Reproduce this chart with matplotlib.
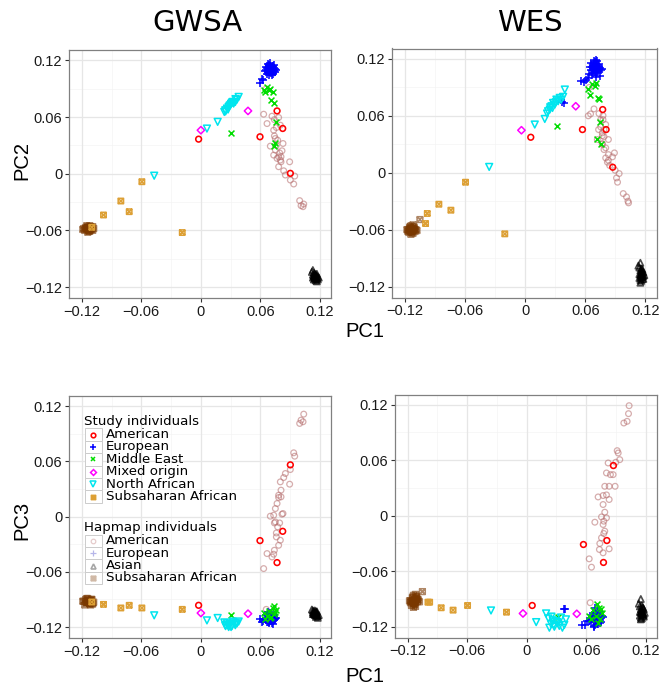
import matplotlib
matplotlib.use('Agg')
import matplotlib.pyplot as plt
from matplotlib.path import Path
from matplotlib.patches import Rectangle
from matplotlib.lines import Line2D

# ---------------- data ----------------
# GWSA, study individuals
gw_amr_pc1 = [0.0769, 0.0826, 0.0597, -0.0022, 0.0903]
gw_amr_pc2 = [0.0665, 0.0479, 0.0391, 0.0366, 0.0004]
gw_amr_pc3 = [-0.0500, -0.0160, -0.0261, -0.0964, 0.0562]

gw_eur_pc1 = [0.066, 0.067, 0.068, 0.069, 0.070, 0.071, 0.072, 0.073, 0.074, 0.075,
              0.067, 0.069, 0.071, 0.073, 0.075, 0.068, 0.070, 0.072, 0.074, 0.066,
              0.068, 0.070, 0.072, 0.074, 0.069, 0.071, 0.073, 0.065, 0.076, 0.070,
              0.060, 0.0617, 0.063, 0.0685]
gw_eur_pc2 = [0.110, 0.112, 0.108, 0.114, 0.111, 0.109, 0.113, 0.110, 0.112, 0.108,
              0.106, 0.115, 0.107, 0.114, 0.111, 0.116, 0.113, 0.105, 0.109, 0.113,
              0.110, 0.117, 0.111, 0.115, 0.108, 0.112, 0.106, 0.109, 0.110, 0.109,
              0.0964, 0.1006, 0.099, 0.104]
gw_eur_pc3 = [-0.112, -0.110, -0.114, -0.108, -0.111, -0.113, -0.109, -0.107, -0.112, -0.110,
              -0.115, -0.106, -0.113, -0.108, -0.111, -0.104, -0.109, -0.116, -0.112, -0.107,
              -0.110, -0.105, -0.113, -0.108, -0.114, -0.109, -0.117, -0.111, -0.110, -0.112,
              -0.111, -0.1146, -0.113, -0.1153]

gw_mde_pc1 = [0.0641, 0.0668, 0.0684, 0.0701, 0.0728, 0.0651, 0.0708, 0.0735, 0.0762, 0.0745, 0.0740, 0.0308]
gw_mde_pc2 = [0.0883, 0.0918, 0.0890, 0.0901, 0.0866, 0.0866, 0.0778, 0.0750, 0.0549, 0.0320, 0.0292, 0.0433]
gw_mde_pc3 = [-0.105, -0.108, -0.103, -0.110, -0.099, -0.111, -0.109, -0.097, -0.101, -0.104, -0.106, -0.1066]

gw_mix_pc1 = [0.0001, 0.0476]
gw_mix_pc2 = [0.0461, 0.0665]
gw_mix_pc3 = [-0.1048, -0.1055]

gw_naf_pc1 = [-0.047, 0.0062, 0.017, 0.0382, 0.0365, 0.0348, 0.0331, 0.0314, 0.0297, 0.0281,
              0.0264, 0.0247, 0.0237, 0.0250, 0.0290, 0.0320, 0.0350, 0.0305, 0.0275]
gw_naf_pc2 = [-0.0021, 0.0478, 0.0549, 0.0813, 0.0785, 0.0760, 0.0743, 0.0750, 0.0725, 0.0707,
              0.0690, 0.0672, 0.0654, 0.0660, 0.0720, 0.0760, 0.0790, 0.0740, 0.0680]
gw_naf_pc3 = [-0.1073, -0.1128, -0.1102, -0.114, -0.116, -0.118, -0.115, -0.119, -0.117, -0.120,
              -0.116, -0.118, -0.115, -0.119, -0.117, -0.114, -0.116, -0.120, -0.118]

gw_ssa_pc1 = [-0.1099, -0.0981, -0.0806, -0.0722, -0.0594, -0.0187]
gw_ssa_pc2 = [-0.0567, -0.0437, -0.0289, -0.0402, -0.0085, -0.0623]
gw_ssa_pc3 = [-0.0928, -0.0954, -0.0993, -0.0964, -0.0993, -0.1008]

# GWSA, Hapmap individuals
gw_hamr_pc1 = [0.0634, 0.0668, 0.0718, 0.0742, 0.0785, 0.0802, 0.0762, 0.0735, 0.0701, 0.0752,
               0.0775, 0.0829, 0.0735, 0.0752, 0.0785, 0.0819, 0.0802, 0.0769, 0.0809, 0.0785,
               0.0836, 0.0896, 0.0853, 0.0903, 0.0937, 0.0947, 0.0997, 0.1011, 0.1038, 0.1031,
               0.0795, 0.0762, 0.0742, 0.0809, 0.0660]
gw_hamr_pc2 = [0.0630, 0.0531, 0.0609, 0.0573, 0.0595, 0.0514, 0.0489, 0.0461, 0.0292, 0.0373,
               0.0355, 0.0320, 0.0197, 0.0250, 0.0179, 0.0243, 0.0144, 0.0162, 0.0126, 0.0074,
               0.0031, 0.0126, -0.0014, -0.0067, -0.0109, -0.0025, -0.0285, -0.0338, -0.0321, -0.0349,
               0.0220, 0.0300, 0.0400, 0.0180, 0.0900]
gw_hamr_pc3 = [-0.0565, -0.0402, -0.0439, -0.0366, -0.0312, -0.0257, -0.0221, -0.0409, 0.0004, -0.0058,
               -0.0112, 0.0033, 0.0015, 0.0087, 0.0207, 0.0026, 0.0377, 0.0142, 0.0287, 0.0232,
               0.0424, 0.0352, 0.0468, 0.0511, 0.0693, 0.0656, 0.1012, 0.1048, 0.1113, 0.1030,
               -0.0069, -0.0178, -0.0069, 0.0214, -0.1008]

gw_heur_pc1 = [0.066, 0.068, 0.070, 0.072, 0.074, 0.067, 0.069, 0.071, 0.073, 0.070]
gw_heur_pc2 = [0.109, 0.112, 0.110, 0.113, 0.108, 0.114, 0.107, 0.111, 0.110, 0.115]
gw_heur_pc3 = [-0.110, -0.112, -0.108, -0.113, -0.109, -0.111, -0.114, -0.107, -0.110, -0.106]

gw_hasn_pc1 = [0.113, 0.114, 0.115, 0.116, 0.117, 0.118, 0.114, 0.115, 0.116, 0.117, 0.113, 0.115,
               0.116, 0.118, 0.112, 0.114, 0.116, 0.117, 0.115, 0.119, 0.113, 0.116, 0.114, 0.117,
               0.1155, 0.1165, 0.1150, 0.1160]
gw_hasn_pc2 = [-0.107, -0.109, -0.108, -0.110, -0.111, -0.109, -0.112, -0.106, -0.113, -0.108, -0.110, -0.111,
               -0.107, -0.112, -0.104, -0.105, -0.109, -0.114, -0.110, -0.110, -0.102, -0.111, -0.108, -0.106,
               -0.1095, -0.1105, -0.1085, -0.1090]
gw_hasn_pc3 = [-0.104, -0.106, -0.105, -0.107, -0.103, -0.108, -0.105, -0.102, -0.109, -0.104, -0.106, -0.107,
               -0.103, -0.110, -0.101, -0.104, -0.106, -0.108, -0.105, -0.107, -0.102, -0.105, -0.103, -0.106,
               -0.1055, -0.1050, -0.1060, -0.1045]

gw_hssa_pc1 = [-0.118, -0.116, -0.115, -0.114, -0.113, -0.112, -0.111, -0.110, -0.109, -0.117, -0.115, -0.113,
               -0.111, -0.109, -0.114, -0.112, -0.110, -0.116, -0.113, -0.111, -0.119, -0.108, -0.114, -0.112,
               -0.1135, -0.1125, -0.1145, -0.1115]
gw_hssa_pc2 = [-0.058, -0.057, -0.059, -0.056, -0.058, -0.060, -0.057, -0.059, -0.056, -0.060, -0.055, -0.061,
               -0.058, -0.060, -0.062, -0.055, -0.057, -0.058, -0.059, -0.056, -0.059, -0.058, -0.057, -0.061,
               -0.0580, -0.0585, -0.0575, -0.0590]
gw_hssa_pc3 = [-0.092, -0.090, -0.094, -0.091, -0.093, -0.095, -0.092, -0.090, -0.094, -0.096, -0.089, -0.093,
               -0.091, -0.095, -0.092, -0.094, -0.090, -0.093, -0.091, -0.096, -0.092, -0.093, -0.089, -0.094,
               -0.0925, -0.0920, -0.0930, -0.0915]

# WES, study individuals
we_amr_pc1 = [0.0056, 0.0572, 0.0774, 0.0808, 0.0874]
we_amr_pc2 = [0.0374, 0.0455, 0.0666, 0.0455, 0.0058]
we_amr_pc3 = [-0.0970, -0.0311, -0.0505, -0.0268, 0.0542]

we_eur_pc1 = [0.066, 0.067, 0.068, 0.069, 0.070, 0.071, 0.072, 0.073, 0.074, 0.075,
              0.064, 0.066, 0.068, 0.070, 0.072, 0.074, 0.076, 0.065, 0.067, 0.069,
              0.071, 0.073, 0.075, 0.077, 0.068, 0.070, 0.072, 0.063, 0.069, 0.071,
              0.0562, 0.0612, 0.0711, 0.0372, 0.0705, 0.0586, 0.0384]
we_eur_pc2 = [0.108, 0.112, 0.110, 0.114, 0.109, 0.113, 0.111, 0.107, 0.112, 0.110,
              0.104, 0.116, 0.105, 0.117, 0.106, 0.115, 0.108, 0.111, 0.103, 0.118,
              0.105, 0.114, 0.102, 0.109, 0.113, 0.106, 0.118, 0.100, 0.110, 0.112,
              0.0965, 0.0975, 0.1010, 0.0743, 0.1193, 0.0960, 0.0740]
we_eur_pc3 = [-0.112, -0.108, -0.115, -0.110, -0.106, -0.113, -0.117, -0.109, -0.104, -0.111,
              -0.114, -0.107, -0.119, -0.110, -0.102, -0.116, -0.108, -0.113, -0.105, -0.118,
              -0.111, -0.103, -0.115, -0.109, -0.120, -0.107, -0.112, -0.114, -0.100, -0.116,
              -0.1185, -0.1140, -0.1100, -0.1005, -0.1080, -0.1185, -0.1005]

we_mde_pc1 = [0.0628, 0.0651, 0.0671, 0.0695, 0.0711, 0.0728, 0.0738, 0.0751, 0.0718, 0.0761, 0.0319]
we_mde_pc2 = [0.0884, 0.0824, 0.0940, 0.0919, 0.0947, 0.0789, 0.0778, 0.0532, 0.0357, 0.0304, 0.0490]
we_mde_pc3 = [-0.108, -0.112, -0.102, -0.1085, -0.0959, -0.0995, -0.1121, -0.101, -0.1157, -0.105, -0.1095]

we_mix_pc1 = [-0.0037, 0.0505]
we_mix_pc2 = [0.0448, 0.0701]
we_mix_pc3 = [-0.1056, -0.1060]

we_naf_pc1 = [-0.0359, 0.0096, 0.0196, 0.0396, 0.0379, 0.0346, 0.0312, 0.0279, 0.0263, 0.0246,
              0.0229, 0.0296, 0.0329, 0.0219, 0.0273, 0.0306, 0.0360, 0.0250]
we_naf_pc2 = [0.0061, 0.0508, 0.0567, 0.0877, 0.0800, 0.0789, 0.0771, 0.0736, 0.0701, 0.0666,
              0.0648, 0.0719, 0.0754, 0.0624, 0.0683, 0.0743, 0.0770, 0.0690]
we_naf_pc3 = [-0.1024, -0.1150, -0.1056, -0.112, -0.118, -0.110, -0.116, -0.120, -0.113, -0.117,
              -0.121, -0.114, -0.119, -0.111, -0.118, -0.115, -0.121, -0.109]

we_ssa_pc1 = [-0.0994, -0.0977, -0.0861, -0.0741, -0.0595, -0.0203]
we_ssa_pc2 = [-0.0536, -0.0430, -0.0332, -0.0395, -0.0100, -0.0645]
we_ssa_pc3 = [-0.0934, -0.0934, -0.0995, -0.1020, -0.0970, -0.1042]

# WES, Hapmap individuals
we_hamr_pc1 = [0.1032, 0.1026, 0.0979, 0.1012, 0.0912, 0.0922, 0.0938, 0.0898, 0.0821, 0.0871,
               0.0844, 0.0804, 0.0891, 0.0831, 0.0787, 0.0720, 0.0804, 0.0770, 0.0831, 0.0770,
               0.0787, 0.0754, 0.0804, 0.0777, 0.0770, 0.0687, 0.0787, 0.0777, 0.0754, 0.0737,
               0.0770, 0.0733, 0.0831, 0.0630, 0.0653, 0.0640]
we_hamr_pc2 = [-0.0318, -0.0300, -0.0220, -0.0255, -0.0055, -0.0100, -0.0009, 0.0026, 0.0111, 0.0167,
               0.0076, 0.0156, 0.0209, 0.0191, 0.0244, 0.0350, 0.0262, 0.0307, 0.0350, 0.0420,
               0.0455, 0.0483, 0.0508, 0.0560, 0.0300, 0.0673, 0.0380, 0.0603, 0.0560, 0.0624,
               0.0390, 0.0455, 0.0130, 0.0600, 0.0620, 0.0900]
we_hamr_pc3 = [0.1189, 0.1103, 0.1002, 0.1020, 0.0703, 0.0678, 0.0606, 0.0578, 0.0570, 0.0444,
               0.0444, 0.0462, 0.0318, 0.0318, 0.0318, 0.0203, 0.0225, 0.0218, 0.0175, 0.0121,
               0.0038, -0.0013, -0.0023, -0.0059, -0.0095, -0.0070, -0.0167, -0.0192, -0.0239, -0.0300,
               -0.0401, -0.0365, -0.0358, -0.0466, -0.0556, -0.0940]

we_heur_pc1 = [0.066, 0.068, 0.070, 0.072, 0.074, 0.067, 0.069, 0.071, 0.073, 0.070]
we_heur_pc2 = [0.108, 0.111, 0.109, 0.113, 0.107, 0.115, 0.106, 0.110, 0.112, 0.116]
we_heur_pc3 = [-0.110, -0.113, -0.107, -0.114, -0.108, -0.111, -0.116, -0.105, -0.112, -0.109]

we_hasn_pc1 = [0.114, 0.115, 0.116, 0.117, 0.118, 0.115, 0.116, 0.117, 0.114, 0.116, 0.118, 0.115,
               0.117, 0.113, 0.116, 0.119, 0.115, 0.117, 0.116, 0.114, 0.118, 0.116, 0.115, 0.117,
               0.1160, 0.1165, 0.1155, 0.1160]
we_hasn_pc2 = [-0.100, -0.103, -0.105, -0.107, -0.109, -0.108, -0.110, -0.104, -0.111, -0.106, -0.112, -0.113,
               -0.102, -0.098, -0.114, -0.108, -0.116, -0.110, -0.101, -0.107, -0.105, -0.109, -0.095, -0.112,
               -0.1060, -0.1080, -0.1100, -0.1040]
we_hasn_pc3 = [-0.098, -0.101, -0.103, -0.105, -0.107, -0.104, -0.106, -0.100, -0.108, -0.102, -0.109, -0.110,
               -0.099, -0.095, -0.111, -0.105, -0.112, -0.107, -0.097, -0.104, -0.101, -0.106, -0.090, -0.108,
               -0.1030, -0.1050, -0.1040, -0.1060]

we_hssa_pc1 = [-0.117, -0.115, -0.114, -0.113, -0.112, -0.111, -0.110, -0.116, -0.114, -0.112, -0.110, -0.115,
               -0.113, -0.111, -0.117, -0.109, -0.114, -0.112, -0.116, -0.113, -0.111, -0.115, -0.118, -0.108, -0.105,
               -0.1135, -0.1125, -0.1145]
we_hssa_pc2 = [-0.060, -0.058, -0.062, -0.059, -0.061, -0.057, -0.060, -0.063, -0.056, -0.064, -0.062, -0.059,
               -0.061, -0.058, -0.062, -0.060, -0.065, -0.055, -0.061, -0.063, -0.059, -0.057, -0.060, -0.061, -0.0494,
               -0.0605, -0.0600, -0.0610]
we_hssa_pc3 = [-0.092, -0.089, -0.095, -0.091, -0.094, -0.087, -0.093, -0.097, -0.086, -0.098, -0.090, -0.092,
               -0.096, -0.088, -0.094, -0.091, -0.099, -0.085, -0.093, -0.095, -0.090, -0.088, -0.092, -0.093, -0.082,
               -0.0925, -0.0915, -0.0935]

ticks = [-0.12, -0.06, 0, 0.06, 0.12]
tick_labels = ['\u22120.12', '\u22120.06', '0', '0.06', '0.12']

# ---------------- styles ----------------
# square with an x inside (ggplot shape 7)
SQX = Path([(-1, -1), (1, -1), (1, 1), (-1, 1), (-1, -1), (-1, -1), (1, 1), (-1, 1), (1, -1)],
           [Path.MOVETO, Path.LINETO, Path.LINETO, Path.LINETO, Path.CLOSEPOLY,
            Path.MOVETO, Path.LINETO, Path.MOVETO, Path.LINETO])

# name, marker, colour, size, linewidth
study_styles = [
    ('American', 'o', '#FF0000', 17, 1.15),
    ('European', '+', '#0000FF', 36, 1.1),
    ('Middle East', 'x', '#00DD00', 18, 1.1),
    ('Mixed origin', 'D', '#FF00FF', 14, 1.1),
    ('North African', 'v', '#00E5EE', 24, 1.1),
    ('Subsaharan African', SQX, '#DDA035', 15, 1.1),
]
# name, marker, colour, size, linewidth, alpha
hapmap_styles = [
    ('American', 'o', '#B46A6A', 17, 0.9, 0.55),
    ('European', '+', '#3030C0', 36, 0.9, 0.35),
    ('Asian', '^', '#000000', 20, 1.2, 0.7),
    ('Subsaharan African', SQX, '#7A3800', 17, 1.1, 0.6),
]

LIB = 'Liberation Sans'


def draw_panel(ax, hapmap, study):
    ax.set_facecolor('white')
    for v in [-0.09, -0.03, 0.03, 0.09]:
        ax.axvline(v, color='#F4F4F4', lw=0.5, zorder=0)
        ax.axhline(v, color='#F4F4F4', lw=0.5, zorder=0)
    for v in ticks:
        ax.axvline(v, color='#E6E6E6', lw=0.9, zorder=0)
        ax.axhline(v, color='#E6E6E6', lw=0.9, zorder=0)
    for (name, m, c, s, lw, a), (x, y) in zip(hapmap_styles, hapmap):
        if m in ('+', 'x'):
            ax.scatter(x, y, marker=m, s=s, color=c, linewidths=lw, alpha=a, zorder=2)
        else:
            ax.scatter(x, y, marker=m, s=s, facecolors='none', edgecolors=c, linewidths=lw, alpha=a, zorder=2)
    for (name, m, c, s, lw), (x, y) in zip(study_styles, study):
        if m in ('+', 'x'):
            ax.scatter(x, y, marker=m, s=s, color=c, linewidths=lw, zorder=3)
        else:
            ax.scatter(x, y, marker=m, s=s, facecolors='none', edgecolors=c, linewidths=lw, zorder=3)
    ax.set_xlim(-0.1326, 0.1313)
    ax.set_ylim(-0.1316, 0.1310)
    ax.set_xticks(ticks)
    ax.set_yticks(ticks)
    ax.set_xticklabels(tick_labels, fontfamily=LIB, fontsize=10.5, color='#1A1A1A')
    ax.set_yticklabels(tick_labels, fontfamily=LIB, fontsize=10.5, color='#1A1A1A')
    ax.tick_params(length=3, width=0.8, color='#333333', pad=2)
    for sp in ax.spines.values():
        sp.set_color('#808080')
        sp.set_linewidth(0.9)


fig = plt.figure(figsize=(6.62, 6.88), dpi=100)
W, H = 662.0, 688.0


def box(l, t, r, b):
    return [l / W, 1 - b / H, (r - l) / W, (b - t) / H]


ax_tl = fig.add_axes(box(69.3, 50, 331, 298))
ax_tr = fig.add_axes(box(392.3, 48.5, 656.7, 297.5))
ax_bl = fig.add_axes(box(69.3, 396, 331, 637.7))
ax_br = fig.add_axes(box(395, 394.5, 657, 637.5))

draw_panel(ax_tl,
           [(gw_hamr_pc1, gw_hamr_pc2), (gw_heur_pc1, gw_heur_pc2), (gw_hasn_pc1, gw_hasn_pc2), (gw_hssa_pc1, gw_hssa_pc2)],
           [(gw_amr_pc1, gw_amr_pc2), (gw_eur_pc1, gw_eur_pc2), (gw_mde_pc1, gw_mde_pc2),
            (gw_mix_pc1, gw_mix_pc2), (gw_naf_pc1, gw_naf_pc2), (gw_ssa_pc1, gw_ssa_pc2)])
draw_panel(ax_bl,
           [(gw_hamr_pc1, gw_hamr_pc3), (gw_heur_pc1, gw_heur_pc3), (gw_hasn_pc1, gw_hasn_pc3), (gw_hssa_pc1, gw_hssa_pc3)],
           [(gw_amr_pc1, gw_amr_pc3), (gw_eur_pc1, gw_eur_pc3), (gw_mde_pc1, gw_mde_pc3),
            (gw_mix_pc1, gw_mix_pc3), (gw_naf_pc1, gw_naf_pc3), (gw_ssa_pc1, gw_ssa_pc3)])
draw_panel(ax_tr,
           [(we_hamr_pc1, we_hamr_pc2), (we_heur_pc1, we_heur_pc2), (we_hasn_pc1, we_hasn_pc2), (we_hssa_pc1, we_hssa_pc2)],
           [(we_amr_pc1, we_amr_pc2), (we_eur_pc1, we_eur_pc2), (we_mde_pc1, we_mde_pc2),
            (we_mix_pc1, we_mix_pc2), (we_naf_pc1, we_naf_pc2), (we_ssa_pc1, we_ssa_pc2)])
draw_panel(ax_br,
           [(we_hamr_pc1, we_hamr_pc3), (we_heur_pc1, we_heur_pc3), (we_hasn_pc1, we_hasn_pc3), (we_hssa_pc1, we_hssa_pc3)],
           [(we_amr_pc1, we_amr_pc3), (we_eur_pc1, we_eur_pc3), (we_mde_pc1, we_mde_pc3),
            (we_mix_pc1, we_mix_pc3), (we_naf_pc1, we_naf_pc3), (we_ssa_pc1, we_ssa_pc3)])

# titles and axis labels
fig.text(197 / W, 1 - 23 / H, 'GWSA', ha='center', va='center', fontsize=21, fontfamily='DejaVu Sans')
fig.text(530 / W, 1 - 23 / H, 'WES', ha='center', va='center', fontsize=21, fontfamily='DejaVu Sans')
fig.text(365 / W, 1 - 331 / H, 'PC1', ha='center', va='center', fontsize=14.5, fontfamily=LIB)
fig.text(365 / W, 1 - 677 / H, 'PC1', ha='center', va='center', fontsize=14.5, fontfamily=LIB)
fig.text(22 / W, 1 - 160 / H, 'PC2', ha='center', va='center', fontsize=14.5, fontfamily=LIB, rotation=90)
fig.text(22 / W, 1 - 520 / H, 'PC3', ha='center', va='center', fontsize=14.5, fontfamily=LIB, rotation=90)


# legend inside the bottom-left panel
def legend_block(title, title_y, first_y, rows):
    fig.text(84 / W, 1 - title_y / H, title, ha='left', va='center', fontsize=9.6, fontfamily='DejaVu Sans')
    for i, (name, m, c, s, lw, a) in enumerate(rows):
        cy = first_y + i * 12.4
        fig.add_artist(Rectangle((84.6 / W, 1 - (cy + 6.2) / H), 17.6 / W, 12.4 / H,
                                 transform=fig.transFigure, facecolor='white', edgecolor='#CCCCCC', lw=0.7))
        ms = s ** 0.5 * 0.8
        if m in ('+', 'x'):
            ln = Line2D([93.4 / W], [1 - cy / H], marker=m, markersize=ms, color=c, alpha=a,
                        markeredgewidth=lw, linestyle='none', transform=fig.transFigure)
        else:
            ln = Line2D([93.4 / W], [1 - cy / H], marker=m, markersize=ms, markerfacecolor='none',
                        markeredgecolor=c, alpha=a, markeredgewidth=lw, linestyle='none',
                        transform=fig.transFigure)
        fig.add_artist(ln)
        fig.text(106 / W, 1 - cy / H, name, ha='left', va='center', fontsize=9.6, fontfamily='DejaVu Sans')


legend_block('Study individuals', 421, 434.5, [(n, m, c, s, lw, 1.0) for n, m, c, s, lw in study_styles])
legend_block('Hapmap individuals', 527.5, 540.7,
             [(n, m, c, s, lw, 0.35) for n, m, c, s, lw, a in hapmap_styles])

fig.savefig('out.png', dpi=100)
